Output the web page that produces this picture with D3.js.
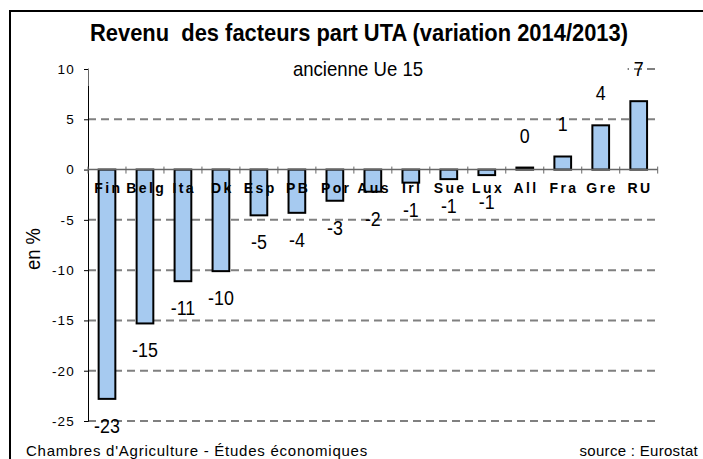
<!DOCTYPE html>
<html>
<head>
<meta charset="utf-8">
<script src="https://cdn.jsdelivr.net/npm/d3@7"></script>
<style>
  body { margin: 0; background: #fff; }
  svg { display: block; font-family: "Liberation Sans", Arial, sans-serif; }
</style>
</head>
<body>
<div id="chart"></div>
<script>
// data
var pays = ["Fin", "Belg", "Ita", "Dk", "Esp", "PB", "Por", "Aus", "Irl", "Sue", "Lux", "All", "Fra", "Gre", "RU"];
var variation = [-22.8, -15.3, -11.1, -10.1, -4.55, -4.3, -3.1, -2.2, -1.3, -0.95, -0.55, 0.2, 1.3, 4.4, 6.8];
var yTicks = [10, 5, 0, -5, -10, -15, -20, -25];

var width = 703, height = 459;
var svg = d3.select("#chart").append("svg")
  .attr("width", width)
  .attr("height", height);

// outer frame (runs past the right and bottom edge)
svg.append("rect")
  .attr("x", 10).attr("y", 11)
  .attr("width", 720).attr("height", 480)
  .attr("fill", "none").attr("stroke", "#000").attr("stroke-width", 2);

var x = d3.scaleBand()
  .domain(pays)
  .range([88, 657.7])
  .paddingInner(0.56)
  .paddingOuter(0.28);

var y = d3.scaleLinear()
  .domain([-25, 10])
  .range([421, 69]);

// dashed gridlines
svg.append("g")
  .selectAll("line")
  .data(yTicks.filter(function(d) { return d != 0; }))
  .enter().append("line")
  .attr("x1", 88).attr("x2", 657.7)
  .attr("y1", function(d) { return y(d); })
  .attr("y2", function(d) { return y(d); })
  .attr("stroke", "#808080")
  .attr("stroke-width", 2)
  .attr("stroke-dasharray", "8,5");

// y axis
var yAxis = svg.append("g")
  .attr("transform", "translate(88,0)")
  .call(d3.axisLeft(y).tickValues(yTicks).tickSize(4).tickPadding(9)
    .tickFormat(function(d) { return d; }));
yAxis.select(".domain").attr("stroke", "#000").attr("stroke-width", 1);
yAxis.selectAll(".tick line").attr("stroke", "#000");
yAxis.selectAll("text")
  .attr("font-size", "13.5px")
  .attr("font-family", "Liberation Sans, Arial, sans-serif")
  .attr("letter-spacing", "1.2px")
  .attr("fill", "#000");

// bars
svg.append("g")
  .selectAll("rect")
  .data(pays)
  .enter().append("rect")
  .attr("x", function(d) { return x(d); })
  .attr("width", x.bandwidth())
  .attr("y", function(d, i) { return y(Math.max(0, variation[i])); })
  .attr("height", function(d, i) { return Math.abs(y(variation[i]) - y(0)); })
  .attr("fill", "#a6caf0")
  .attr("stroke", "#000")
  .attr("stroke-width", 2);

// x axis line at zero with ticks between categories
var gap = x.step() * x.paddingInner() / 2;
var bounds = pays.map(function(d) { return x(d) - gap; }).concat([x(pays[pays.length - 1]) + x.bandwidth() + gap]);
svg.append("line")
  .attr("x1", 88).attr("x2", 657.7)
  .attr("y1", y(0)).attr("y2", y(0))
  .attr("stroke", "#666").attr("stroke-width", 1.5);
svg.append("g")
  .selectAll("line")
  .data(bounds)
  .enter().append("line")
  .attr("x1", function(d) { return d; })
  .attr("x2", function(d) { return d; })
  .attr("y1", y(0) - 3).attr("y2", y(0) + 4)
  .attr("stroke", "#666").attr("stroke-width", 1);

// category labels next to the axis
svg.append("g")
  .selectAll("text")
  .data(pays)
  .enter().append("text")
  .attr("x", function(d) { return x(d) + x.bandwidth() / 2 + 1.3; })
  .attr("y", 193)
  .attr("text-anchor", "middle")
  .attr("font-size", "14px")
  .attr("font-weight", "bold")
  .attr("letter-spacing", "2.4px")
  .text(function(d) { return d; });

// white box of the subtitle hides top of axis and 10 gridline
svg.append("rect")
  .attr("x", 88.6).attr("y", 57)
  .attr("width", 539).attr("height", 29)
  .attr("fill", "#fff");

// value labels (narrow, tall like the original)
svg.append("g")
  .selectAll("text")
  .data(pays)
  .enter().append("text")
  .attr("transform", function(d, i) {
    var v = variation[i];
    var ty = v < 0 ? y(v) + 34 : y(v) - 25;
    return "translate(" + (x(d) + x.bandwidth() / 2) + "," + ty + ") scale(0.85,1)";
  })
  .attr("text-anchor", "middle")
  .attr("font-size", "21px")
  .text(function(d, i) { return Math.round(variation[i]); });

// titles
svg.append("text")
  .attr("x", 359).attr("y", 41)
  .attr("text-anchor", "middle")
  .attr("font-size", "24px")
  .attr("font-weight", "bold")
  .attr("textLength", 538)
  .attr("lengthAdjust", "spacingAndGlyphs")
  .style("white-space", "pre")
  .text("Revenu  des facteurs part UTA (variation 2014/2013)");

svg.append("text")
  .attr("transform", "translate(358,76) scale(0.93,1)")
  .attr("text-anchor", "middle")
  .attr("font-size", "20px")
  .text("ancienne Ue 15");

svg.append("text")
  .attr("transform", "translate(40,249) rotate(-90) scale(0.92,1)")
  .attr("text-anchor", "middle")
  .attr("font-size", "20px")
  .text("en %");

svg.append("text")
  .attr("x", 26).attr("y", 456)
  .attr("font-size", "15px")
  .attr("letter-spacing", "0.75px")
  .text("Chambres d'Agriculture - Études économiques");

svg.append("text")
  .attr("x", 698).attr("y", 456)
  .attr("text-anchor", "end")
  .attr("font-size", "15px")
  .attr("letter-spacing", "0.3px")
  .text("source : Eurostat");
</script>
</body>
</html>
